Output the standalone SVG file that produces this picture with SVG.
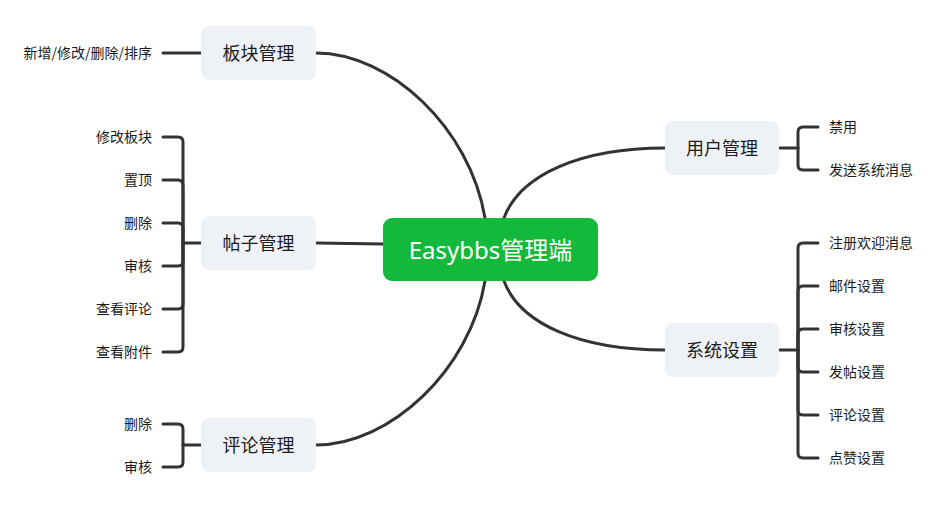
<svg xmlns="http://www.w3.org/2000/svg" width="939" height="513" viewBox="0 0 939 513">
<style>
.conn{fill:none;stroke:#333333;stroke-width:3;stroke-linecap:round;}
.branch{fill:#eef1f5;}
.btxt{font-family:"Noto Sans CJK SC","Noto Sans",sans-serif;font-size:18px;fill:#1a1a1a;text-anchor:middle;}
.leaf{font-family:"Noto Sans CJK SC","Noto Sans",sans-serif;font-size:14px;fill:#1a1a1a;}
.l{text-anchor:end;}
.r{text-anchor:start;}
.root{fill:#13b93b;}
.rtxt{font-family:"Noto Sans","Noto Sans CJK SC",sans-serif;font-size:24px;fill:#ffffff;text-anchor:middle;}
</style>
<rect width="939" height="513" fill="#ffffff"/>
<g id="connectors">
<path class="conn" d="M316,53 C390,53 470,128 485,218"/>
<path class="conn" d="M316,243 L383,244"/>
<path class="conn" d="M316,445 C390,445 470,370 485,281"/>
<path class="conn" d="M504,218 C520,175 580,148 665,148"/>
<path class="conn" d="M504,281 C520,324 580,350 665,350"/>
<path class="conn" d="M163,53 H201"/>
<path class="conn" d="M201,243 H183"/>
<path class="conn" d="M183,243 V142 Q183,137 178,137 H163"/>
<path class="conn" d="M183,243 V185 Q183,180 178,180 H163"/>
<path class="conn" d="M183,243 V228 Q183,223 178,223 H163"/>
<path class="conn" d="M183,243 V261 Q183,266 178,266 H163"/>
<path class="conn" d="M183,243 V304 Q183,309 178,309 H163"/>
<path class="conn" d="M183,243 V347 Q183,352 178,352 H163"/>
<path class="conn" d="M201,445 H183"/>
<path class="conn" d="M183,445 V429 Q183,424 178,424 H163"/>
<path class="conn" d="M183,445 V462 Q183,467 178,467 H163"/>
<path class="conn" d="M779,148 H798"/>
<path class="conn" d="M798,148 V132 Q798,127 803,127 H818"/>
<path class="conn" d="M798,148 V165 Q798,170 803,170 H818"/>
<path class="conn" d="M779,350 H798"/>
<path class="conn" d="M798,350 V248 Q798,243 803,243 H818"/>
<path class="conn" d="M798,350 V291 Q798,286 803,286 H818"/>
<path class="conn" d="M798,350 V334 Q798,329 803,329 H818"/>
<path class="conn" d="M798,350 V367 Q798,372 803,372 H818"/>
<path class="conn" d="M798,350 V410 Q798,415 803,415 H818"/>
<path class="conn" d="M798,350 V453 Q798,458 803,458 H818"/>
</g>
<g id="root">
<rect class="root" x="383" y="218" width="215" height="63" rx="9"/>
<text class="rtxt" x="490.5" y="258.5">Easybbs管理端</text>
</g>
<g id="node-bankuai">
<rect class="branch" x="201" y="26" width="115" height="54" rx="8"/>
<text class="btxt" x="258.5" y="59.5">板块管理</text>
</g>
<g id="node-tiezi">
<rect class="branch" x="201" y="216" width="115" height="54" rx="8"/>
<text class="btxt" x="258.5" y="249.5">帖子管理</text>
</g>
<g id="node-pinglun">
<rect class="branch" x="201" y="418" width="115" height="54" rx="8"/>
<text class="btxt" x="258.5" y="451.5">评论管理</text>
</g>
<g id="node-yonghu">
<rect class="branch" x="665" y="121" width="114" height="54" rx="8"/>
<text class="btxt" x="722" y="154.5">用户管理</text>
</g>
<g id="node-xitong">
<rect class="branch" x="665" y="323" width="114" height="54" rx="8"/>
<text class="btxt" x="722" y="356.5">系统设置</text>
</g>
<g id="leaf-bankuai">
<text class="leaf l" x="152" y="58">新增/修改/删除/排序</text>
</g>
<g id="leaf-tiezi">
<text class="leaf l" x="152" y="142">修改板块</text>
<text class="leaf l" x="152" y="185">置顶</text>
<text class="leaf l" x="152" y="228">删除</text>
<text class="leaf l" x="152" y="271">审核</text>
<text class="leaf l" x="152" y="314">查看评论</text>
<text class="leaf l" x="152" y="357">查看附件</text>
</g>
<g id="leaf-pinglun">
<text class="leaf l" x="152" y="429">删除</text>
<text class="leaf l" x="152" y="472">审核</text>
</g>
<g id="leaf-yonghu">
<text class="leaf r" x="829" y="132">禁用</text>
<text class="leaf r" x="829" y="175">发送系统消息</text>
</g>
<g id="leaf-xitong">
<text class="leaf r" x="829" y="248">注册欢迎消息</text>
<text class="leaf r" x="829" y="291">邮件设置</text>
<text class="leaf r" x="829" y="334">审核设置</text>
<text class="leaf r" x="829" y="377">发帖设置</text>
<text class="leaf r" x="829" y="420">评论设置</text>
<text class="leaf r" x="829" y="463">点赞设置</text>
</g>
</svg>
